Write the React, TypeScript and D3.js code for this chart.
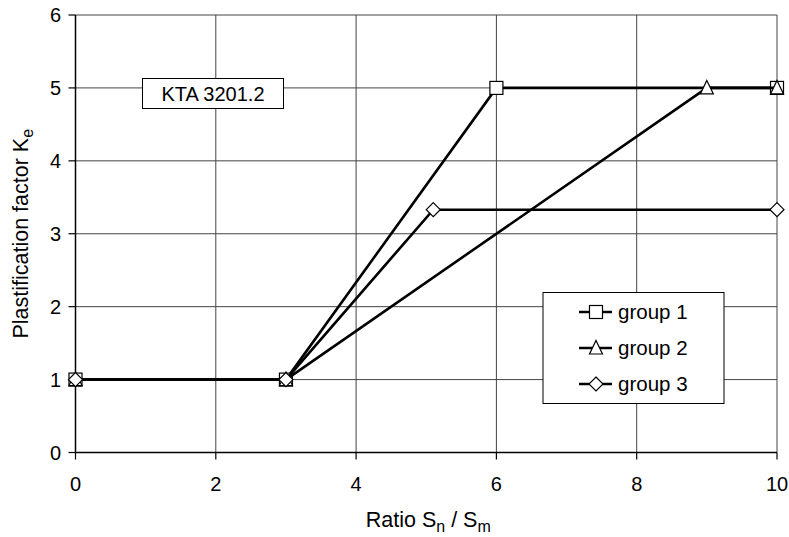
import React from "react";
import * as d3 from "d3";

// Ratio Sn/Sm breakpoints and plastification factor Ke per group
const xGroup1 = [0, 3, 6, 10];
const yGroup1 = [1, 1, 5, 5];
const xGroup2 = [0, 3, 9, 10];
const yGroup2 = [1, 1, 5, 5];
const xGroup3 = [0, 3, 5.1, 10];
const yGroup3 = [1, 1, 3.33, 3.33];

const seriesNames = ["group 1", "group 2", "group 3"];
const seriesMarkers = ["square", "triangle", "diamond"];
const xTicks = [0, 2, 4, 6, 8, 10];
const yTicks = [0, 1, 2, 3, 4, 5, 6];
const noteText = "KTA 3201.2";

const W = 789;
const H = 537;
const left = 75.5;
const right = 777;
const top = 15;
const bottom = 452.5;
const FONT = "'Liberation Sans', Arial, sans-serif";

function Marker({ kind, cx, cy }: { kind: string; cx: number; cy: number }) {
  const common = { fill: "#fff", stroke: "#000", strokeWidth: 1.2 };
  if (kind === "square") {
    return <rect x={cx - 6.5} y={cy - 6.5} width={13} height={13} {...common} />;
  }
  if (kind === "triangle") {
    const p = [
      [cx, cy - 7.5],
      [cx + 6.5, cy + 6],
      [cx - 6.5, cy + 6],
    ];
    return <polygon points={p.map((q) => q.join(",")).join(" ")} {...common} />;
  }
  const p = [
    [cx, cy - 7],
    [cx + 7, cy],
    [cx, cy + 7],
    [cx - 7, cy],
  ];
  return <polygon points={p.map((q) => q.join(",")).join(" ")} {...common} />;
}

export default function App() {
  const x = d3.scaleLinear().domain([0, 10]).range([left, right]);
  const y = d3.scaleLinear().domain([0, 6]).range([bottom, top]);

  const series = [
    { xs: xGroup1, ys: yGroup1 },
    { xs: xGroup2, ys: yGroup2 },
    { xs: xGroup3, ys: yGroup3 },
  ];

  const line = d3
    .line<[number, number]>()
    .x((d) => x(d[0]))
    .y((d) => y(d[1]));

  return (
    <svg
      width={W}
      height={H}
      style={{ position: "absolute", left: 0, top: 0, background: "#fff" }}
      fontFamily={FONT}
    >
      <rect x={0} y={0} width={W} height={H} fill="#fff" />

      {/* grid */}
      {yTicks.map((t) => (
        <line key={"gy" + t} x1={left} x2={right} y1={y(t)} y2={y(t)} stroke="#444" strokeWidth={1} />
      ))}
      {xTicks.map((t) => (
        <line key={"gx" + t} x1={x(t)} x2={x(t)} y1={top} y2={bottom} stroke="#444" strokeWidth={1} />
      ))}

      {/* axes */}
      <line x1={left} x2={left} y1={top} y2={bottom + 0.5} stroke="#000" strokeWidth={1.5} />
      <line x1={left} x2={right} y1={bottom} y2={bottom} stroke="#000" strokeWidth={1.5} />
      {yTicks.map((t) => (
        <g key={"ty" + t}>
          <line x1={left - 7} x2={left} y1={y(t)} y2={y(t)} stroke="#000" strokeWidth={1.2} />
          <text x={61} y={y(t)} dy="0.36em" textAnchor="end" fontSize={20}>
            {t}
          </text>
        </g>
      ))}
      {xTicks.map((t) => (
        <g key={"tx" + t}>
          <line x1={x(t)} x2={x(t)} y1={bottom} y2={bottom + 7} stroke="#000" strokeWidth={1.2} />
          <text x={x(t)} y={490.5} textAnchor="middle" fontSize={20}>
            {t}
          </text>
        </g>
      ))}

      {/* axis titles */}
      <text x={(left + right) / 2 + 2} y={527} textAnchor="middle" fontSize={21.5}>
        Ratio S<tspan fontSize={16} dy={5}>n</tspan>
        <tspan dy={-5}> / S</tspan>
        <tspan fontSize={16} dy={5}>m</tspan>
      </text>
      <text transform={`translate(28,${(top + bottom) / 2}) rotate(-90)`} textAnchor="middle" fontSize={21.5}>
        Plastification factor K<tspan fontSize={16} dy={5}>e</tspan>
      </text>

      {/* series lines and markers */}
      {series.map((s, i) => {
        const pts = s.xs.map((v, k) => [v, s.ys[k]] as [number, number]);
        return (
          <g key={"s" + i}>
            <path d={line(pts) || ""} fill="none" stroke="#000" strokeWidth={2.6} />
            {pts.map((p, k) => (
              <Marker key={k} kind={seriesMarkers[i]} cx={x(p[0])} cy={y(p[1])} />
            ))}
          </g>
        );
      })}

      {/* note box */}
      <rect x={142.5} y={78.5} width={141} height={30} fill="#fff" stroke="#000" strokeWidth={1} />
      <text x={213} y={100.5} textAnchor="middle" fontSize={20}>
        {noteText}
      </text>

      {/* legend */}
      <rect x={543} y={292.5} width={181} height={111} fill="#fff" stroke="#000" strokeWidth={1} />
      {seriesNames.map((name, i) => {
        const cy = 312 + i * 36;
        return (
          <g key={"l" + i}>
            <line x1={579} x2={612} y1={cy} y2={cy} stroke="#000" strokeWidth={2.4} />
            <Marker kind={seriesMarkers[i]} cx={596} cy={cy} />
            <text x={618} y={cy} dy="0.36em" fontSize={20.5}>
              {name}
            </text>
          </g>
        );
      })}
    </svg>
  );
}
